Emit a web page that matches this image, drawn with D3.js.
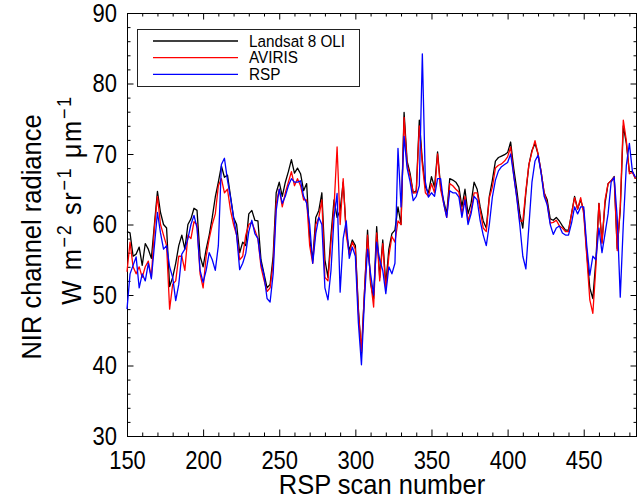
<!DOCTYPE html>
<html>
<head>
<meta charset="utf-8">
<script src="https://cdn.jsdelivr.net/npm/d3@7"></script>
<style>
body { margin: 0; background: #fff; }
text { font-family: "Liberation Sans", Arial, Helvetica, sans-serif; fill: #000; }
</style>
</head>
<body>
<div id="chart"></div>
<script>
// RSP scan numbers (every other scan)
var scans = d3.range(150, 485, 2);

var landsat = [
  59, 58.8, 55.5, 55.8, 56.8, 54.2, 57.3, 56.5, 55.2, 60,
  64.7, 61.7, 60, 59.5, 51.2, 52.5, 54.5, 57, 58.5, 56.5,
  60, 60.8, 62.3, 62, 55.5, 54, 56.5, 58.5, 61, 63.9,
  66, 68.3, 66.7, 67, 64, 61, 60, 56, 57.5, 57,
  61.5, 62, 60.6, 60.5, 55, 53, 51, 51.5, 55.5, 64.5,
  66, 64, 66, 67.5, 69.2, 67.3, 68, 67.2, 64.8, 65.8,
  58, 55, 61, 62, 64.5, 55, 52.5, 58.5, 63.5, 61,
  62, 66, 59, 56.3, 57.8, 57, 48, 41.7, 50.5, 59.2,
  51.6, 49.5, 59.7, 52.5, 57.8, 51.5, 56.5, 58.7, 59.2, 62.5,
  60, 75.9, 69, 67.2, 64.5, 64.8, 74.8, 69.1, 65.3, 64.5,
  66.8, 65.3, 70.3, 65.3, 63.4, 61.5, 66.5, 66.3, 66, 65.3,
  62.5, 65, 61.5, 63, 66, 65, 62.5, 60.5, 59.5, 64,
  66.3, 69, 69.5, 69.7, 69.9, 70.2, 71.7, 68, 65, 61.5,
  59.5, 64.5, 68.5, 70.5, 71.5, 70, 67.5, 64.5, 63.5, 60.8,
  60.6, 61, 60.5, 59.8, 59.2, 59.2, 61.5, 64, 62.2, 63.5,
  62, 56, 51, 49.5, 55, 63, 57.5, 63, 65.8, 66.2,
  66.8, 56.6, 62, 74, 71.5, 67.5, 67.5, 66.5
];

var aviris = [
  53.3, 57.5, 54, 53, 54, 52.5, 54, 54.8, 52.5, 59.5,
  64, 60, 58.5, 57, 48, 51.5, 52, 55.5, 55.5, 53.5,
  58.5, 58, 60.4, 60, 53, 51, 55.5, 58, 60, 61.5,
  65.5, 66.5, 64.5, 65, 62, 60, 58.5, 55, 55.5, 58.5,
  60, 60.3, 59.2, 58, 54, 52.1, 50.5, 51, 54.5, 63,
  65, 62.5, 64.5, 66, 67.5, 65.5, 66.5, 65.5, 63.5, 63.5,
  57, 54.5, 60, 61, 63.5, 52.5, 52, 57.5, 62.5, 71,
  60, 66.5, 58.5, 55.8, 57.5, 56.5, 47.5, 42, 50.5, 58.5,
  52, 48.3, 58.8, 52, 57.3, 50.7, 55.5, 58.3, 57.5, 60.5,
  60, 75.2, 68.5, 66.8, 64.5, 64.5, 74, 68.5, 64.5, 64,
  65.8, 64.5, 70, 65, 63, 61, 65.8, 65.5, 65, 64.6,
  61.5, 64, 60.5, 62, 64.5, 64.5, 62, 59.5, 59, 63.8,
  65.3, 68, 68.4, 68.6, 69, 69.6, 71, 67, 64, 60.5,
  60.5, 64.8, 68.5, 70.3, 71.9, 70, 67.5, 64.5, 63, 60.2,
  60.3, 60.6, 59.8, 59.5, 59, 59, 61.5, 63.8, 62.2, 63.8,
  61.5, 55.5, 49.3, 47.4, 54, 63, 57.3, 63.5, 65.8, 66.2,
  66.7, 56.3, 62.5, 74.8, 71.9, 67.2, 67.4, 66.5
];

var rsp = [
  48, 53, 54.2, 55.4, 51, 53, 52, 54.5, 52.3, 57,
  61.7, 58.8, 56.5, 57, 54, 52.5, 49.2, 51.5, 55.8, 56.5,
  58, 60, 61.3, 59.5, 53.5, 51.8, 53.5, 56, 55, 53.5,
  57, 68.5, 69.4, 66.3, 63.8, 61, 58.5, 53.6, 54.5, 55.9,
  59, 60.6, 58.7, 58, 54.5, 52.8, 49.5, 49, 53, 62,
  65, 63, 64, 65.5, 66.5, 66, 66, 66.2, 64, 63,
  60, 54.5, 58.7, 61, 60, 51, 49.3, 53.5, 61, 64.4,
  50.4, 58, 60.5, 55.2, 56.8, 55.5, 46, 40.1, 49.5, 56.5,
  53, 50, 57.5, 55, 53.5, 50.2, 54, 53, 54.5, 70.8,
  62.5, 72.5, 68, 66, 63.4, 64, 65.5, 84.2, 66, 63.9,
  64.5, 64, 66.5, 66.5, 63, 61, 64.8, 64.5, 64.5, 63.9,
  61, 63.5, 60, 61.5, 64, 63.5, 60.5, 58.5, 57, 60,
  63.9, 66.3, 67.6, 68.2, 68.5, 68.8, 70, 67, 63.8, 60,
  55.5, 53.7, 59.8, 66, 69, 69.8, 67.3, 64, 62.8, 60,
  58.6, 59.5, 59.8, 58.8, 58.5, 58.5, 60.2, 62.5, 61.5, 62.5,
  62.5, 57, 52.8, 55.5, 55, 59.5, 56, 58.7, 61.5, 66,
  66.7, 61, 49.7, 60, 68.4, 71.5, 67.5, 66.7
];

var xTicks = [150, 200, 250, 300, 350, 400, 450];
var yTicks = [30, 40, 50, 60, 70, 80, 90];
var seriesNames = ["Landsat 8 OLI", "AVIRIS", "RSP"];
var seriesColors = ["#000000", "#ff0000", "#0000ff"];

var w = 639, h = 499;
var margin = {top: 13, right: 2, bottom: 63, left: 127};
var stretchY = 1.15;

var svg = d3.select("#chart").append("svg")
    .attr("width", w)
    .attr("height", h);

var x = d3.scaleLinear().domain([150, 485]).range([margin.left, w - margin.right]);
var y = d3.scaleLinear().domain([30, 90]).range([h - margin.bottom, margin.top]);

var xMinor = d3.range(160, 485, 10).filter(function(d) { return d % 50 != 0; });
var yMinor = d3.range(32, 90, 2).filter(function(d) { return d % 10 != 0; });

// tall, narrow looking labels like the original
function stretchText(g, fontSize) {
    g.selectAll("text").each(function() {
        var t = d3.select(this);
        var ty = +t.attr("y") || 0;
        t.attr("y", 0)
            .attr("transform", "translate(0," + ty + ") scale(1," + stretchY + ")")
            .style("font-size", fontSize + "px")
            .attr("fill", "#000");
    });
}

function tidy(g) {
    g.select(".domain").remove();
    g.selectAll("line").attr("stroke", "#000");
}

// major ticks, inward on all four sides
var gx = svg.append("g")
    .attr("transform", "translate(0," + (h - margin.bottom) + ")")
    .call(d3.axisBottom(x).tickValues(xTicks).tickSizeInner(-6.5).tickSizeOuter(0).tickPadding(15))
    .call(tidy);
gx.attr("font-family", null).attr("font-size", null);
stretchText(gx, 22);

var gy = svg.append("g")
    .attr("transform", "translate(" + margin.left + ",0)")
    .call(d3.axisLeft(y).tickValues(yTicks).tickSizeInner(-6.5).tickSizeOuter(0).tickPadding(10))
    .call(tidy);
gy.attr("font-family", null).attr("font-size", null);
stretchText(gy, 22);

svg.append("g")
    .attr("transform", "translate(0," + margin.top + ")")
    .call(d3.axisTop(x).tickValues(xTicks).tickSizeInner(-6.5).tickSizeOuter(0).tickFormat(""))
    .call(tidy);
svg.append("g")
    .attr("transform", "translate(" + (w - margin.right) + ",0)")
    .call(d3.axisRight(y).tickValues(yTicks).tickSizeInner(-6.5).tickSizeOuter(0).tickFormat(""))
    .call(tidy);

// minor ticks
svg.append("g")
    .attr("transform", "translate(0," + (h - margin.bottom) + ")")
    .call(d3.axisBottom(x).tickValues(xMinor).tickSizeInner(-3.5).tickSizeOuter(0).tickFormat(""))
    .call(tidy);
svg.append("g")
    .attr("transform", "translate(0," + margin.top + ")")
    .call(d3.axisTop(x).tickValues(xMinor).tickSizeInner(-3.5).tickSizeOuter(0).tickFormat(""))
    .call(tidy);
svg.append("g")
    .attr("transform", "translate(" + margin.left + ",0)")
    .call(d3.axisLeft(y).tickValues(yMinor).tickSizeInner(-3.5).tickSizeOuter(0).tickFormat(""))
    .call(tidy);
svg.append("g")
    .attr("transform", "translate(" + (w - margin.right) + ",0)")
    .call(d3.axisRight(y).tickValues(yMinor).tickSizeInner(-3.5).tickSizeOuter(0).tickFormat(""))
    .call(tidy);

// frame
svg.append("rect")
    .attr("x", margin.left + 0.5)
    .attr("y", margin.top + 0.5)
    .attr("width", w - margin.left - margin.right - 1)
    .attr("height", h - margin.top - margin.bottom)
    .attr("fill", "none")
    .attr("stroke", "#000")
    .attr("stroke-width", 1);

// data lines
var line = d3.line()
    .x(function(d, i) { return x(scans[i]); })
    .y(function(d) { return y(d); });

[landsat, aviris, rsp].forEach(function(s, k) {
    svg.append("path")
        .datum(s)
        .attr("d", line)
        .attr("fill", "none")
        .attr("stroke", seriesColors[k])
        .attr("stroke-width", 1.3)
        .attr("stroke-linejoin", "round");
});

// legend
var lg = svg.append("g");
lg.append("rect")
    .attr("x", 137.5).attr("y", 29.5)
    .attr("width", 222).attr("height", 57)
    .attr("fill", "#fff")
    .attr("stroke", "#222")
    .attr("stroke-width", 1);

seriesNames.forEach(function(name, k) {
    var ly = 41 + k * 16.7;
    lg.append("line")
        .attr("x1", 153).attr("x2", 238)
        .attr("y1", ly).attr("y2", ly)
        .attr("stroke", seriesColors[k])
        .attr("stroke-width", 1.3);
    lg.append("text")
        .attr("transform", "translate(249," + (ly + 5.5) + ") scale(1,1.1)")
        .style("font-size", "15.3px")
        .text(name);
});

// axis titles
svg.append("text")
    .attr("transform", "translate(" + ((margin.left + w - margin.right) / 2) + ",494) scale(1,1.1)")
    .attr("text-anchor", "middle")
    .style("font-size", "25.5px")
    .text("RSP scan number");

svg.append("text")
    .attr("transform", "translate(41,237) rotate(-90) scale(1,1.1)")
    .attr("text-anchor", "middle")
    .style("font-size", "25.5px")
    .text("NIR channel radiance");

var yt2 = svg.append("text")
    .attr("transform", "translate(81,200) rotate(-90) scale(1,1.1)")
    .attr("text-anchor", "middle")
    .style("font-size", "25.5px")
    .style("letter-spacing", "1.6px");
yt2.append("tspan").text("W m");
yt2.append("tspan").attr("dy", -9).style("font-size", "18px").text("\u22122");
yt2.append("tspan").attr("dy", 9).text(" sr");
yt2.append("tspan").attr("dy", -9).style("font-size", "18px").text("\u22121");
yt2.append("tspan").attr("dy", 9).text(" \u03bcm");
yt2.append("tspan").attr("dy", -9).style("font-size", "18px").text("\u22121");
</script>
</body>
</html>
